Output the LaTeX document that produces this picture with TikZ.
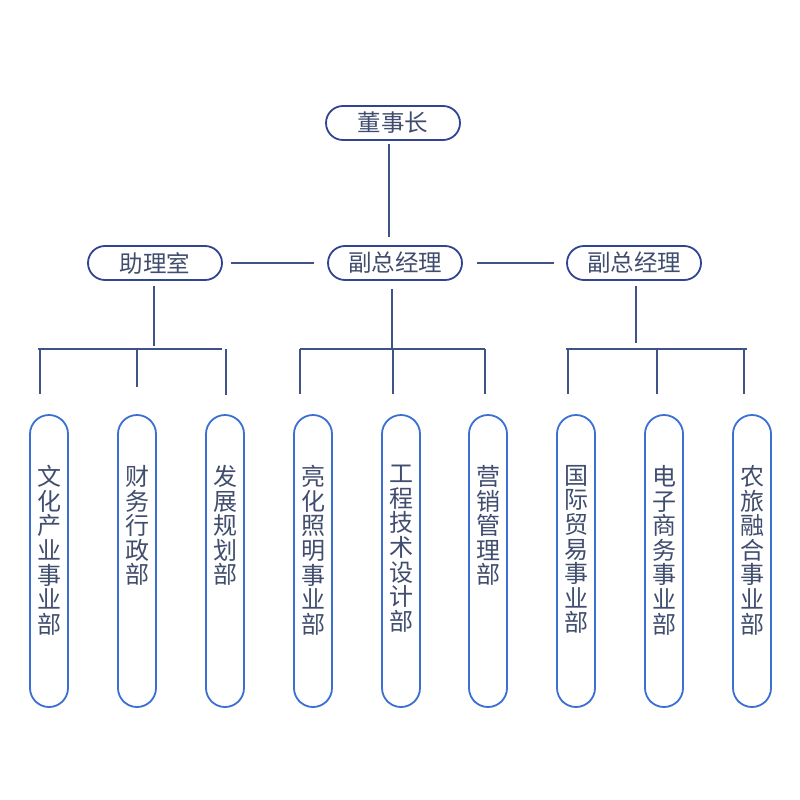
\documentclass[tikz,border=0pt]{standalone}
\usepackage{fontspec}
\newfontfamily\cjk{Noto Sans CJK SC}
\usepackage{tikz}
\definecolor{navy}{HTML}{2F4493}
\definecolor{boxblue}{HTML}{3B6FD4}
\definecolor{linkgray}{HTML}{3E5387}
\definecolor{inkgray}{HTML}{404D6E}
\tikzset{
  lead/.style={draw=navy, line width=1.8pt, rounded corners=17pt, minimum width=134pt,
    minimum height=34pt, inner sep=0pt, text=inkgray, font=\cjk\fontsize{23.5}{24}\selectfont},
  dept/.style={draw=boxblue, line width=1.8pt, rounded corners=19pt, minimum width=38pt,
    minimum height=292pt, inner sep=0pt},
  vlabel/.style={anchor=north, inner sep=0pt, align=center, text=inkgray,
    font=\cjk\fontsize{24}{24.6}\selectfont},
  link/.style={draw=linkgray, line width=2.2pt},
}
\begin{document}
\begin{tikzpicture}[x=1pt,y=-1pt]
\useasboundingbox (0,0) rectangle (800,800);
% top levels
\node[lead] (chair) at (393,123) {董事长};
\node[lead] (asst) at (155,263) {助理室};
\node[lead] (vpa) at (395,263) {副总经理};
\node[lead] (vpb) at (634,263) {副总经理};
\draw[link, shorten <=3pt, shorten >=8pt] ([xshift=-4pt]chair.south) -- ([xshift=-4pt]chair.south |- vpa.north);
\draw[link, shorten <=8pt, shorten >=13pt] (asst.east) -- (vpa.west);
\draw[link, shorten <=14pt, shorten >=12pt] (vpa.east) -- (vpb.west);
% departments
\foreach \x/\txt [count=\i] in {49/{文\\化\\产\\业\\事\\业\\部}, 137/{财\\务\\行\\政\\部},
    225/{发\\展\\规\\划\\部}, 313/{亮\\化\\照\\明\\事\\业\\部}, 401/{工\\程\\技\\术\\设\\计\\部},
    488/{营\\销\\管\\理\\部}, 576/{国\\际\\贸\\易\\事\\业\\部}, 664/{电\\子\\商\\务\\事\\业\\部},
    752/{农\\旅\\融\\合\\事\\业\\部}} {
  \node[dept] (d\i) at (\x,561) {};
  \node[vlabel] (t\i) at ([yshift=-51pt]d\i.north) {\txt};
}
\coordinate (bar) at (0,349);
% branches
\draw[link, shorten <=5pt, shorten >=3pt] ([xshift=-1pt]asst.south) -- ([xshift=-1pt]asst.south |- bar);
\draw[link, shorten <=8pt] ([xshift=-3pt]vpa.south) -- ([xshift=-3pt]vpa.south |- bar);
\draw[link, shorten <=5pt, shorten >=6pt] ([xshift=2pt]vpb.south) -- ([xshift=2pt]vpb.south |- bar);
\draw[link] ([xshift=-11pt]d1.north |- bar) -- ([xshift=-3pt]d3.north |- bar);
\draw[link] ([xshift=-13pt]d4.north |- bar) -- ([xshift=-3pt]d6.north |- bar);
\draw[link] ([xshift=-10pt]d7.north |- bar) -- ([xshift=-5pt]d9.north |- bar);
\foreach \i/\dx/\gap in {1/-9/20, 2/0/27, 3/1/19, 4/-13/20, 5/-8/20, 6/-3/20, 7/-8/20, 8/-7/20, 9/-8/20}
  \draw[link, shorten >=\gap pt] ([xshift=\dx pt]d\i.north |- bar) -- ([xshift=\dx pt]d\i.north);
\end{tikzpicture}
\end{document}
